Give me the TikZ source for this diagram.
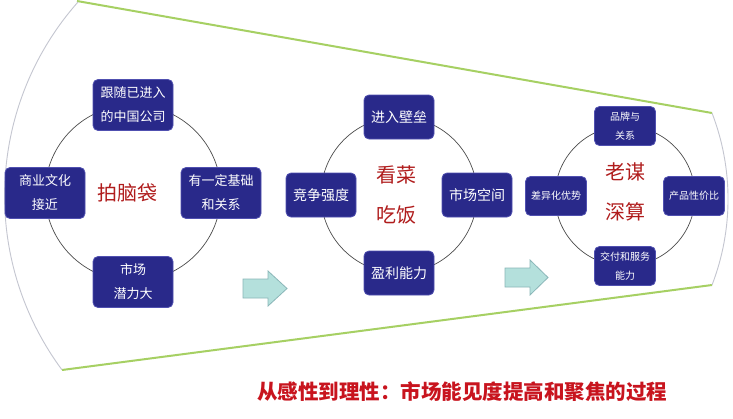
\documentclass[tikz,border=0pt]{standalone}
\usepackage{fontspec}
\setmainfont{Noto Sans CJK SC}
\definecolor{nodeblue}{HTML}{29298A}
\definecolor{nodeedge}{HTML}{5050B0}
\definecolor{funnelgreen}{HTML}{A6D063}
\definecolor{arcgray}{HTML}{C4C6D0}
\definecolor{darkred}{HTML}{B01C1C}
\definecolor{arrowfill}{HTML}{B4E0DC}
\definecolor{arrowedge}{HTML}{8AB6B8}
\definecolor{titlered}{HTML}{C8141E}
\begin{document}
\begin{tikzpicture}[x=1pt,y=-1pt,
 box/.style={draw=nodeedge, line width=0.8pt, fill=nodeblue, rounded corners=5pt, text=white, align=center, inner sep=0pt},
 boxA/.style={box, minimum width=80pt, minimum height=51pt, font=\fontsize{13}{24}\selectfont},
 boxB/.style={box, minimum width=70pt, minimum height=44pt, font=\fontsize{14}{22}\selectfont},
 boxC/.style={box, minimum width=61pt, minimum height=39pt, font=\fontsize{10}{19}\selectfont},
 ring/.style={draw=black!70, line width=0.7pt},
 centre/.style={text=darkred, align=center, font=\fontsize{20}{40}\selectfont},
 funnel/.style={draw=funnelgreen, line width=2pt},
 rim/.style={draw=arcgray, line width=0.9pt},
 blockarrow/.style={draw=arrowedge, fill=arrowfill, line width=0.8pt, line join=miter}
]
\fill[white] (0,0) rectangle (733,418);
\useasboundingbox (0,0) rectangle (733,418);
% funnel
\draw[funnel] (77,1) -- (712,113);
\draw[funnel] (62,370) -- (712,285);
\draw[rim] (78,2) arc[start angle=221.5, end angle=143.5, radius=292.5];
\draw[rim] (712,113) arc[start angle=-21.1, end angle=21.1, radius=239];
% rings
\coordinate (c1) at (133,193);
\coordinate (c2) at (399,195);
\coordinate (c3) at (625,196);
\draw[ring] (c1) circle[radius=88];
\draw[ring] (c2) circle[radius=78];
\draw[ring] (c3) circle[radius=70];
% group 1
\node[boxA] (t1) at (133,105) {跟随已进入\\的中国公司};
\node[boxA] (l1) at (45,193) {商业文化\\接近};
\node[boxA] (r1) at (221,193) {有一定基础\\和关系};
\node[boxA] (b1) at (133,282) {市场\\潜力大};
\node[centre] (m1) at (127,193) {拍脑袋};
% group 2
\node[boxB] (t2) at (399,117) {进入壁垒};
\node[boxB] (l2) at (321,195) {竞争强度};
\node[boxB] (r2) at (477,195) {市场空间};
\node[boxB] (b2) at (399,273) {盈利能力};
\node[centre] (m2) at (396,195) {看菜\\吃饭};
% group 3
\node[boxC] (t3) at (625,126) {品牌与\\关系};
\node[boxC] (l3) at (556,196) {差异化优势};
\node[boxC] (r3) at (694,196) {产品性价比};
\node[boxC] (b3) at (625,266) {交付和服务\\能力};
\node[centre] (m3) at (625,192) {老谋\\深算};
% block arrows
\draw[blockarrow] (243,279) -- (268,279) -- (268,271) -- (287,288.5) -- (268,306) -- (268,298) -- (243,298) -- cycle;
\draw[blockarrow] (505,268) -- (530,268) -- (530,260) -- (548,277.5) -- (530,295) -- (530,287) -- (505,287) -- cycle;
% title
\node[text=titlered, font=\bfseries\fontsize{20.5}{24}\selectfont] (title) at (462,392) {从感性到理性：市场能见度提高和聚焦的过程};
\end{tikzpicture}
\end{document}
